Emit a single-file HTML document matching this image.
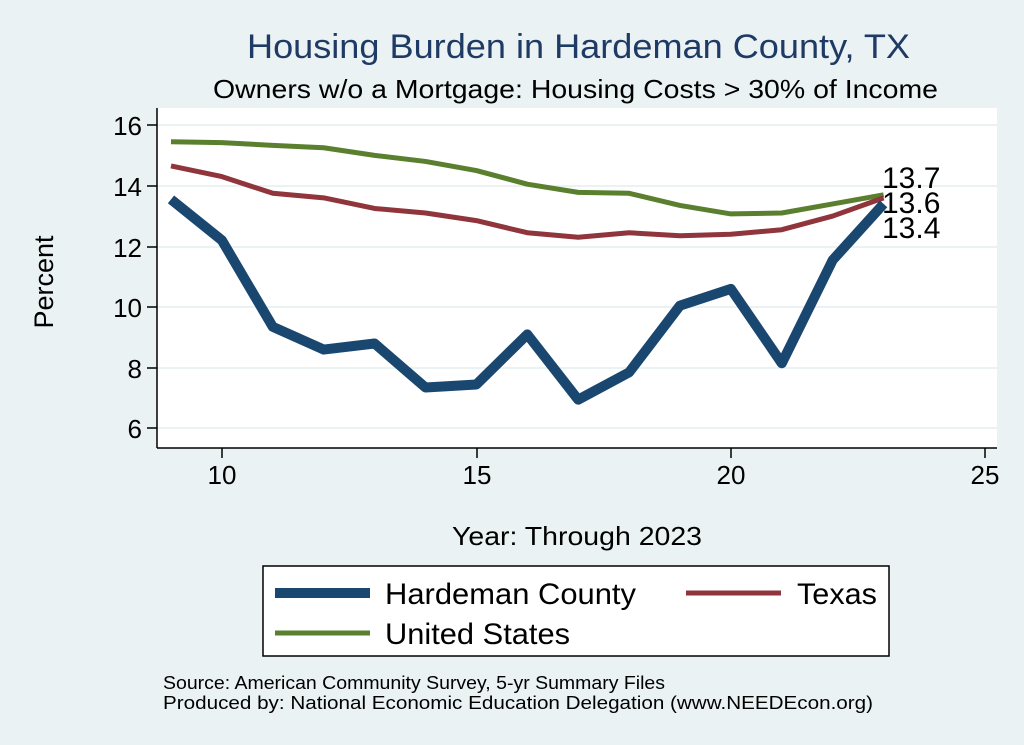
<!DOCTYPE html>
<html><head><style>
body{margin:0;width:1024px;height:745px;background:#eaf2f3;overflow:hidden}
svg{display:block}
text{font-family:"Liberation Sans",sans-serif}
</style></head><body>
<svg width="1024" height="745" viewBox="0 0 1024 745">
<rect x="157" y="108" width="840" height="340" fill="#fff"/>
<g stroke="#eaf2f3" stroke-width="2">
<line x1="157" x2="997" y1="125" y2="125"/><line x1="157" x2="997" y1="186" y2="186"/>
<line x1="157" x2="997" y1="247" y2="247"/><line x1="157" x2="997" y1="307" y2="307"/>
<line x1="157" x2="997" y1="368" y2="368"/><line x1="157" x2="997" y1="428" y2="428"/>
</g>
<g stroke="#000" stroke-width="1.5">
<line x1="157" x2="157" y1="108" y2="448"/><line x1="157" x2="997" y1="448" y2="448"/>
<line x1="147" x2="157" y1="125" y2="125"/><line x1="147" x2="157" y1="186" y2="186"/>
<line x1="147" x2="157" y1="247" y2="247"/><line x1="147" x2="157" y1="307" y2="307"/>
<line x1="147" x2="157" y1="368" y2="368"/><line x1="147" x2="157" y1="428" y2="428"/>
<line x1="222" x2="222" y1="448" y2="458"/><line x1="477" x2="477" y1="448" y2="458"/>
<line x1="731" x2="731" y1="448" y2="458"/><line x1="985" x2="985" y1="448" y2="458"/>
</g>
<g font-size="26" text-anchor="end">
<text x="142" y="135">16</text><text x="142" y="196">14</text><text x="142" y="257">12</text>
<text x="142" y="317">10</text><text x="142" y="378">8</text><text x="142" y="438">6</text>
</g>
<g font-size="26" text-anchor="middle">
<text x="222" y="484">10</text><text x="477" y="484">15</text><text x="731" y="484">20</text><text x="985" y="484">25</text>
</g>
<text x="452" y="545" font-size="26" textLength="250" lengthAdjust="spacingAndGlyphs">Year: Through 2023</text>
<text x="247" y="58" font-size="34" fill="#1f3a64" textLength="663" lengthAdjust="spacingAndGlyphs">Housing Burden in Hardeman County, TX</text>
<text x="213" y="98" font-size="26" textLength="725" lengthAdjust="spacingAndGlyphs">Owners w/o a Mortgage: Housing Costs &gt; 30% of Income</text>
<text transform="translate(53,282) rotate(-90)" font-size="27" text-anchor="middle">Percent</text>
<g transform="translate(-287.1,610.6) scale(50.9,-30.35)" fill="none" stroke-linejoin="round">
<polyline vector-effect="non-scaling-stroke" stroke="#5a7f2e" stroke-width="5" points="9,15.45 10,15.42 11,15.33 12,15.25 13,15 14,14.8 15,14.5 16,14.05 17,13.78 18,13.75 19,13.35 20,13.07 21,13.1 22,13.4 23,13.7"/>
<polyline vector-effect="non-scaling-stroke" stroke="#90353b" stroke-width="5" points="9,14.65 10,14.3 11,13.75 12,13.6 13,13.25 14,13.1 15,12.85 16,12.45 17,12.3 18,12.45 19,12.35 20,12.4 21,12.55 22,13 23,13.6"/>
<polyline vector-effect="non-scaling-stroke" stroke="#1a476f" stroke-width="10" points="9,13.55 10,12.2 11,9.35 12,8.6 13,8.8 14,7.35 15,7.45 16,9.1 17,6.95 18,7.85 19,10.05 20,10.6 21,8.15 22,11.55 23,13.4"/>
</g>
<g font-size="30">
<text x="882" y="188">13.7</text><text x="882" y="213">13.6</text><text x="882" y="238">13.4</text>
</g>
<rect x="263" y="566" width="626" height="90" fill="#fff" stroke="#000" stroke-width="1.5"/>
<line x1="275" x2="370" y1="593" y2="593" stroke="#1a476f" stroke-width="10"/>
<line x1="686" x2="781" y1="593" y2="593" stroke="#90353b" stroke-width="5"/>
<line x1="275" x2="370" y1="633" y2="633" stroke="#5a7f2e" stroke-width="5"/>
<g font-size="30">
<text x="385" y="604" textLength="251" lengthAdjust="spacingAndGlyphs">Hardeman County</text><text x="797" y="604" textLength="80" lengthAdjust="spacingAndGlyphs">Texas</text><text x="385" y="644" textLength="185" lengthAdjust="spacingAndGlyphs">United States</text>
</g>
<g font-size="18">
<text x="163" y="689" textLength="502" lengthAdjust="spacingAndGlyphs">Source: American Community Survey, 5-yr Summary Files</text>
<text x="163" y="709" textLength="710" lengthAdjust="spacingAndGlyphs">Produced by: National Economic Education Delegation (www.NEEDEcon.org)</text>
</g>
</svg>
</body></html>
